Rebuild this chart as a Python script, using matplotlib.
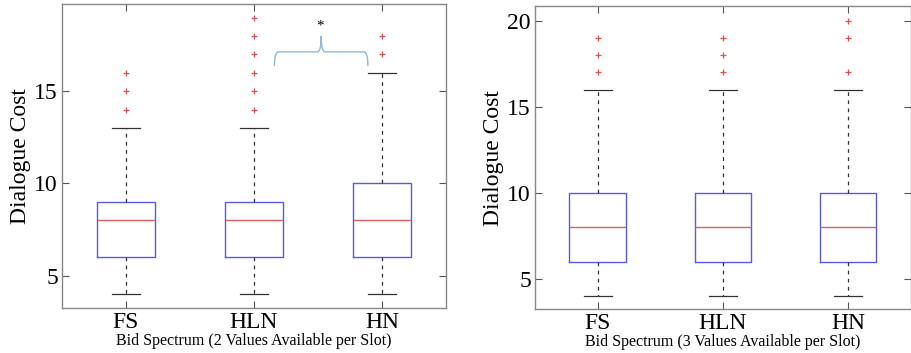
import matplotlib.pyplot as plt
from matplotlib.path import Path
from matplotlib.patches import PathPatch

plt.rcParams['font.family'] = ['Liberation Serif', 'DejaVu Serif']

groups = ['FS', 'HLN', 'HN']

# left panel: 2 values available per slot
left_q1 = [6, 6, 6]
left_med = [8, 8, 8]
left_q3 = [9, 9, 10]
left_lo = [4, 4, 4]
left_hi = [13, 13, 16]
left_out = [[14, 15, 16], [14, 15, 16, 17, 18, 19], [17, 18]]

# right panel: 3 values available per slot
right_q1 = [6, 6, 6]
right_med = [8, 8, 8]
right_q3 = [10, 10, 10]
right_lo = [4, 4, 4]
right_hi = [16, 16, 16]
right_out = [[17, 18, 19], [17, 18, 19], [17, 19, 20]]

# significance brace between HLN and HN (left panel)
brace_x = (2.16, 2.89)
brace_y = (16.37, 17.14, 18.0)
star_pos = (2.52, 18.55)


def make_stats(q1, med, q3, lo, hi, out):
    stats = []
    for i in range(len(groups)):
        stats.append({'q1': q1[i], 'med': med[i], 'q3': q3[i],
                      'whislo': lo[i], 'whishi': hi[i], 'fliers': out[i],
                      'label': groups[i]})
    return stats


def draw(ax, stats, ylim, yticks, xlabel):
    ax.bxp(stats, positions=[1, 2, 3], widths=0.45, showfliers=True,
           boxprops=dict(color='#5a5ae6', lw=1.0),
           medianprops=dict(color='#e06060', lw=1.0),
           whiskerprops=dict(color='#333333', lw=0.9, ls=(0, (3, 3.5))),
           capprops=dict(color='#333333', lw=0.9),
           capwidths=0.225,
           flierprops=dict(marker='+', markeredgecolor='#e05050',
                           markersize=5, markeredgewidth=0.9, ls='none'))
    ax.set_xlim(0.5, 3.5)
    ax.set_ylim(*ylim)
    ax.set_yticks(yticks)
    ax.set_xticks([1, 2, 3])
    ax.set_xticklabels(groups, fontsize=17)
    ax.tick_params(axis='y', labelsize=17, pad=3)
    ax.tick_params(axis='x', pad=3)
    ax.tick_params(direction='in', length=5, top=True, right=True,
                   color='#555555')
    for s in ax.spines.values():
        s.set_color('#888888')
        s.set_linewidth(1.0)
    ax.set_ylabel('Dialogue Cost', fontsize=17, labelpad=2)
    ax.set_xlabel(xlabel, fontsize=11.5, labelpad=0)


fig = plt.figure(figsize=(9.12, 3.53), dpi=100)
ax1 = fig.add_axes([0.068, 0.1275, 0.421, 0.8612])
ax2 = fig.add_axes([0.5866, 0.1246, 0.4119, 0.8576])

draw(ax1, make_stats(left_q1, left_med, left_q3, left_lo, left_hi, left_out),
     (3.24, 19.74), [5, 10, 15], 'Bid Spectrum (2 Values Available per Slot)')
draw(ax2, make_stats(right_q1, right_med, right_q3, right_lo, right_hi, right_out),
     (3.24, 20.84), [5, 10, 15, 20], 'Bid Spectrum (3 Values Available per Slot)')

# curly brace
x0, x1 = brace_x
yb, ym, yt = brace_y
xm = (x0 + x1) / 2
dx = 0.03
verts = [(x0, yb), (x0, ym), (x0 + dx, ym),
         (xm - dx, ym), (xm, ym), (xm, yt),
         (xm, ym), (xm + dx, ym),
         (x1 - dx, ym), (x1, ym), (x1, yb)]
codes = [Path.MOVETO, Path.CURVE3, Path.CURVE3,
         Path.LINETO, Path.CURVE3, Path.CURVE3,
         Path.CURVE3, Path.CURVE3,
         Path.LINETO, Path.CURVE3, Path.CURVE3]
ax1.add_patch(PathPatch(Path(verts, codes), fill=False, ec='#8fb8de', lw=1.0))
ax1.text(star_pos[0], star_pos[1], '*', ha='center', va='center', fontsize=11)

fig.savefig('out.png', dpi=100)
